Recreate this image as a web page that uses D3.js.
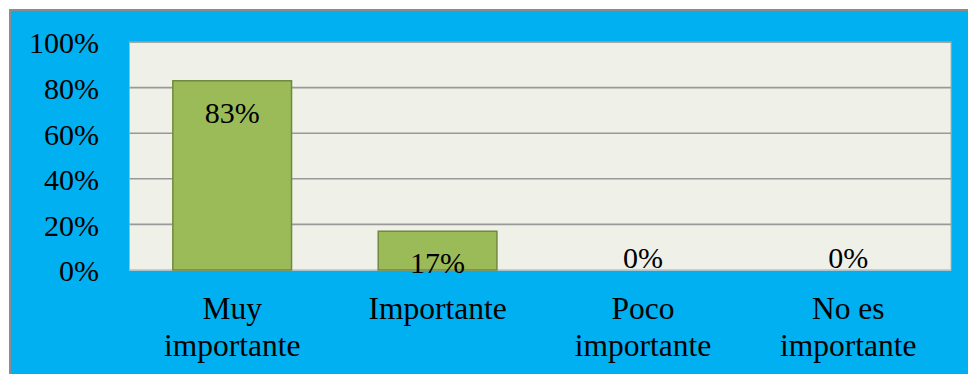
<!DOCTYPE html>
<html>
<head>
<meta charset="utf-8">
<script src="https://cdn.jsdelivr.net/npm/d3@7"></script>
<style>
  html, body { margin: 0; padding: 0; background: #ffffff; }
  svg { display: block; }
  svg text { font-family: "Liberation Serif", "DejaVu Serif", serif; fill: #000; }
</style>
</head>
<body>
<svg id="chart" width="968" height="374"></svg>
<script>
// Response categories (multi-line labels) and their shares
const categories = ["Muy importante", "Importante", "Poco importante", "No es importante"];
const categoryLines = [["Muy", "importante"], ["Importante"], ["Poco", "importante"], ["No es", "importante"]];
const values = [83, 17, 0, 0];
const yTicks = [0, 20, 40, 60, 80, 100];

const W = 968, H = 374;
const plot = { left: 129.5, top: 42, right: 951, bottom: 270 };
const fontSize = 30;
const catFontSize = 31.5;
const serif = "'Liberation Serif', 'DejaVu Serif', serif";

const svg = d3.select("#chart");

// outer chart frame (blue)
svg.append("rect")
  .attr("x", 10).attr("y", 10)
  .attr("width", W + 10).attr("height", H + 10)
  .attr("fill", "#00B0F0")
  .attr("stroke", "#8c8c8c").attr("stroke-width", 2);

const x = d3.scaleBand()
  .domain(categories)
  .range([plot.left, plot.right])
  .paddingInner(0.422)
  .paddingOuter(0.211);

const y = d3.scaleLinear()
  .domain([0, 100])
  .range([plot.bottom, plot.top]);

// plot area background
svg.append("rect")
  .attr("x", plot.left).attr("y", plot.top)
  .attr("width", plot.right - plot.left).attr("height", plot.bottom - plot.top)
  .attr("fill", "#EFF1E8")
  .attr("stroke", "#b5b5b5").attr("stroke-width", 1);

// horizontal gridlines
svg.append("g")
  .selectAll("line")
  .data(yTicks)
  .join("line")
  .attr("x1", plot.left).attr("x2", plot.right)
  .attr("y1", d => y(d)).attr("y2", d => y(d))
  .attr("stroke", d => d === 0 ? "#c8c8c8" : "#999999")
  .attr("stroke-width", 1.6);

// y axis labels
const yAxis = d3.axisLeft(y)
  .tickValues(yTicks)
  .tickFormat(d => d + "%")
  .tickSize(0)
  .tickPadding(0);
const gy = svg.append("g")
  .attr("transform", `translate(99,0)`)
  .call(yAxis)
  .attr("font-family", serif);
gy.select(".domain").remove();
gy.selectAll("text")
  .attr("font-size", fontSize)
  .attr("fill", "#000")
  .attr("dy", "0.36em");

// bars
svg.append("g")
  .selectAll("rect")
  .data(values.map((v, i) => ({ v, c: categories[i] })))
  .join("rect")
  .attr("x", d => x(d.c))
  .attr("y", d => y(d.v))
  .attr("width", x.bandwidth())
  .attr("height", d => y(0) - y(d.v))
  .attr("fill", "#9BBB59")
  .attr("stroke", d => d.v > 0 ? "#71893F" : "none")
  .attr("stroke-width", 1.5);

// value labels (inside end; zero bars show the label just above the axis)
svg.append("g")
  .attr("font-family", serif)
  .selectAll("text")
  .data(values.map((v, i) => ({ v, c: categories[i] })))
  .join("text")
  .attr("x", d => x(d.c) + x.bandwidth() / 2)
  .attr("y", d => d.v > 0 ? y(d.v) + 42 : y(0) - 2)
  .attr("text-anchor", "middle")
  .attr("font-size", fontSize)
  .text(d => d.v + "%");

// category labels
const xAxis = d3.axisBottom(x).tickSize(0).tickFormat("");
const gx = svg.append("g")
  .attr("transform", `translate(0,${plot.bottom})`)
  .call(xAxis)
  .attr("font-family", serif);
gx.select(".domain").remove();
gx.selectAll(".tick").each(function(d, i) {
  const t = d3.select(this).append("text")
    .attr("text-anchor", "middle")
    .attr("font-size", catFontSize)
    .attr("fill", "#000")
    .attr("y", 48.5);
  categoryLines[i].forEach((line, k) => {
    t.append("tspan").attr("x", 0).attr("dy", k === 0 ? 0 : 37.5).text(line);
  });
});
</script>
</body>
</html>
